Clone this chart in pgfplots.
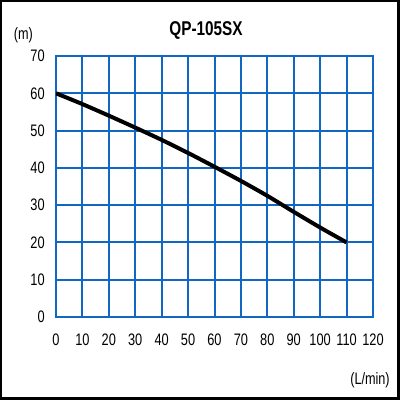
\documentclass[border=0pt]{standalone}
\usepackage{fontspec}
\setmainfont{Liberation Sans}
\usepackage{graphicx}
\usepackage{pgfplots}
\pgfplotsset{compat=1.18}
\definecolor{gridblue}{RGB}{16,104,196}
\newcommand{\tall}[1]{\scalebox{1}[1.3]{#1}}

\begin{document}
\begin{tikzpicture}[x=1pt,y=1pt]
% frame of the picture (400px = 300pt)
\fill[black] (0,0) rectangle (300,300);
\fill[white] (1.8,2.0) rectangle (298,298.2);

\begin{axis}[
    at={(42pt,62.25pt)}, anchor=origin,
    scale only axis,
    width=237.75pt, height=195.75pt,
    xmin=0, xmax=120, ymin=0, ymax=70,
    xtick={0,10,...,120}, ytick={0,10,...,70},
    grid=major,
    major grid style={draw=gridblue, line width=1.5pt},
    axis line style={draw=gridblue, line width=1.5pt},
    major tick length=0pt,
    /pgf/number format/assume math mode=true,
    tick label style={font=\fontsize{9.6}{10}\selectfont},
    xticklabel={\tall{\pgfmathprintnumber{\tick}}},
    yticklabel={\tall{\pgfmathprintnumber{\tick}}},
    xticklabel style={yshift=-9pt},
    yticklabel style={xshift=-5pt},
]
\addplot[black, line width=3pt, smooth, tension=0.4] coordinates {
    (0,60) (10,57.1) (20,54) (30,50.8) (40,47.5) (50,44) (60,40.3)
    (70,36.5) (80,32.5) (90,28.2) (100,24) (110,20)
};
\end{axis}

\node[font=\bfseries\fontsize{11.5}{12}\selectfont] at (154.5,276.9) {\tall{QP-105SX}};
\node[font=\fontsize{9.5}{10}\selectfont] at (17.6,273.4) {\tall{(m)}};
\node[font=\fontsize{9.5}{10}\selectfont] at (277.5,15) {\tall{(L/min)}};
\end{tikzpicture}
\end{document}
